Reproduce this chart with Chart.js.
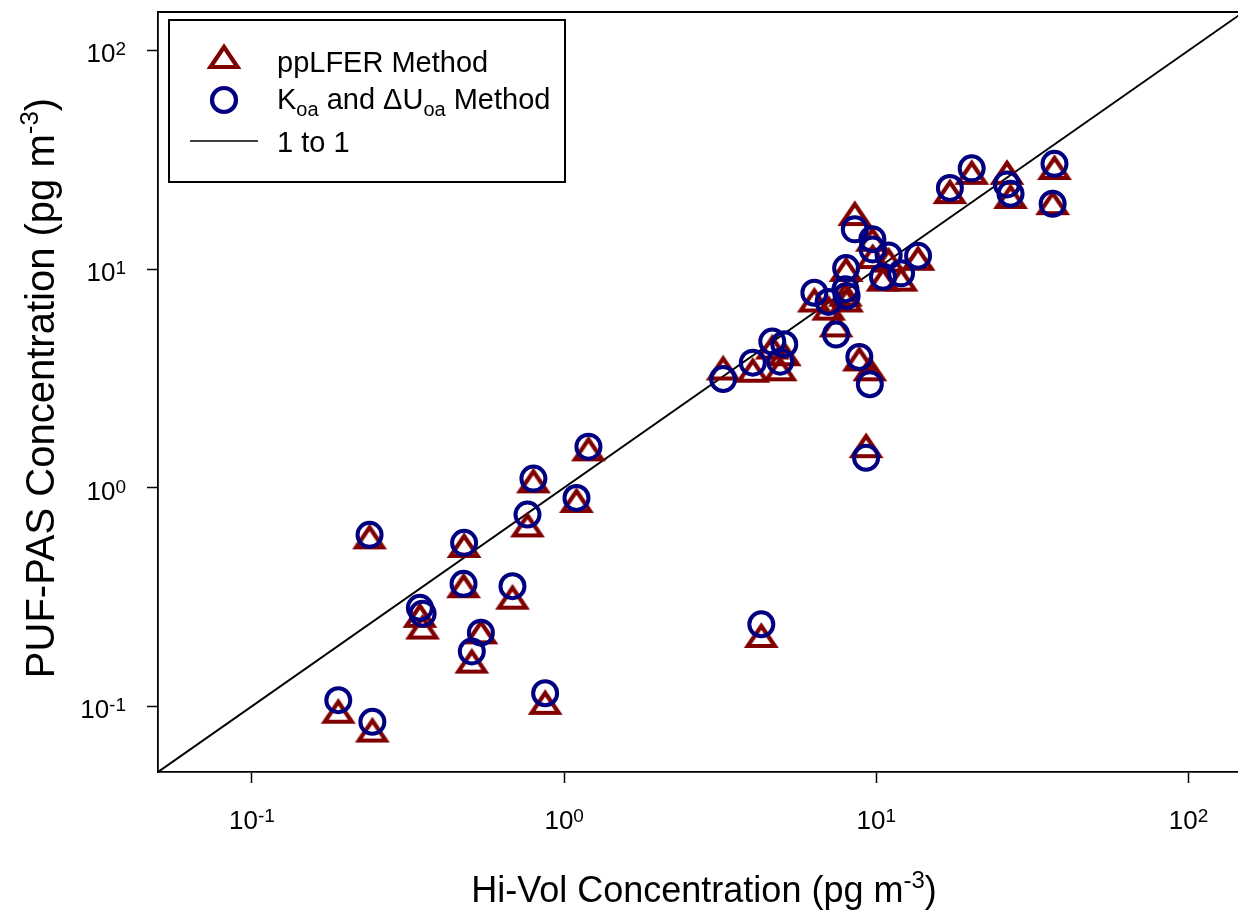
<!DOCTYPE html>
<html>
<head>
<meta charset="utf-8">
<script src="https://cdn.jsdelivr.net/npm/chart.js@4.4.0/dist/chart.umd.min.js"></script>
<style>
  html, body { margin: 0; padding: 0; background: #fff; }
  #wrap { width: 1238px; height: 913px; }
</style>
</head>
<body>
<div id="wrap"><canvas id="chart" width="1238" height="913"></canvas></div>
<script>
// Hi-Vol concentration (x), same for both methods
const hiVol = [0.189, 0.238, 0.243, 0.345, 0.352, 0.476, 0.478, 0.506, 0.541, 0.683,
  0.763, 0.797, 0.869, 1.095, 1.196, 3.23, 4.02, 4.28, 4.64, 4.92,
  5.07, 6.33, 7.03, 7.43, 7.96, 8.0, 8.03, 8.53, 8.82, 9.27,
  9.53, 9.71, 9.73, 10.5, 10.95, 12.0, 13.6, 17.2, 20.2, 26.2,
  26.9, 36.7, 37.2];
// PUF-PAS, ppLFER method
const ppLFER = [0.0914, 0.574, 0.075, 0.251, 0.222, 0.343, 0.524, 0.155, 0.211, 0.304,
  0.651, 1.035, 0.1004, 0.842, 1.45, 3.40, 3.32, 0.203, 4.24, 3.37,
  3.95, 6.96, 6.39, 5.35, 7.40, 9.6, 6.96, 17.3, 3.74, 1.50,
  3.37, 13.2, 11.0, 8.67, 10.6, 8.67, 10.8, 21.8, 26.7, 26.7,
  20.7, 19.4, 28.1];
// PUF-PAS, Koa and dUoa method
const koaMethod = [0.1065, 0.608, 0.0848, 0.282, 0.265, 0.363, 0.559, 0.178, 0.217, 0.354,
  0.753, 1.10, 0.1146, 0.897, 1.54, 3.14, 3.73, 0.237, 4.66, 3.77,
  4.53, 7.79, 7.07, 5.02, 8.08, 10.1, 7.53, 15.2, 3.96, 1.37,
  2.97, 13.7, 12.3, 9.22, 11.55, 9.56, 11.5, 23.5, 28.9, 24.4,
  22.1, 19.9, 30.3];
// 1 to 1 line ends
const oneToOne = [0.05, 150];
// axis ticks
const tickValues = [0.1, 1, 10, 100];
const tickExps = ["-1", "0", "1", "2"];

const RED = "#800000";
const BLUE = "#000080";
const FONT = '"Liberation Sans", Arial, sans-serif';

// triangle marker (centroid roughly at the centre of the canvas)
function makeTriangle() {
  const c = document.createElement("canvas");
  c.width = 36;
  c.height = 36;
  const g = c.getContext("2d");
  g.strokeStyle = RED;
  g.lineWidth = 4.2;
  g.lineJoin = "miter";
  g.beginPath();
  g.moveTo(18, 5);
  g.lineTo(31.5, 25);
  g.lineTo(4.5, 25);
  g.closePath();
  g.stroke();
  return c;
}
const triMarker = makeTriangle();

// text with super/subscripts
function drawRich(ctx, parts, x, y, align) {
  let total = 0;
  parts.forEach((p) => {
    ctx.font = p.size + "px " + FONT;
    p.w = ctx.measureText(p.text).width;
    total += p.w;
  });
  let cx = x;
  if (align === "center") cx = x - total / 2;
  if (align === "right") cx = x - total;
  ctx.textAlign = "left";
  ctx.textBaseline = "alphabetic";
  parts.forEach((p) => {
    ctx.font = p.size + "px " + FONT;
    ctx.fillText(p.text, cx, y + (p.dy || 0));
    cx += p.w;
  });
}

const decorPlugin = {
  id: "decor",
  afterDraw(chart) {
    const ctx = chart.ctx;
    const area = chart.chartArea;
    const xs = chart.scales.x;
    const ys = chart.scales.y;
    ctx.save();
    ctx.fillStyle = "#000";
    ctx.strokeStyle = "#000";

    // top frame
    ctx.lineWidth = 1.8;
    ctx.beginPath();
    ctx.moveTo(area.left, area.top);
    ctx.lineTo(area.right, area.top);
    ctx.stroke();

    // tick labels
    tickValues.forEach((v, i) => {
      const px = xs.getPixelForValue(v);
      drawRich(ctx, [
        { text: "10", size: 26 },
        { text: tickExps[i], size: 19, dy: -7 }
      ], px, 829, "center");
      const py = ys.getPixelForValue(v);
      drawRich(ctx, [
        { text: "10", size: 26 },
        { text: tickExps[i], size: 19, dy: -7 }
      ], 126, py + 12, "right");
    });

    // axis titles
    drawRich(ctx, [
      { text: "Hi-Vol Concentration (pg m", size: 36 },
      { text: "-3", size: 24, dy: -14 },
      { text: ")", size: 36 }
    ], 704, 902, "center");

    ctx.save();
    ctx.translate(54, 388);
    ctx.rotate(-Math.PI / 2);
    drawRich(ctx, [
      { text: "PUF-PAS Concentration (pg m", size: 40 },
      { text: "-3", size: 26, dy: -16 },
      { text: ")", size: 40 }
    ], 0, 0, "center");
    ctx.restore();

    // legend
    ctx.fillStyle = "#fff";
    ctx.fillRect(169, 20, 396, 162);
    ctx.lineWidth = 2;
    ctx.strokeRect(169, 20, 396, 162);
    ctx.fillStyle = "#000";
    ctx.drawImage(triMarker, 224 - 18, 60 - 18);
    ctx.strokeStyle = BLUE;
    ctx.lineWidth = 4.2;
    ctx.beginPath();
    ctx.arc(224, 100, 12, 0, Math.PI * 2);
    ctx.stroke();
    ctx.strokeStyle = "#000";
    ctx.lineWidth = 1.5;
    ctx.beginPath();
    ctx.moveTo(190, 141);
    ctx.lineTo(258, 141);
    ctx.stroke();
    drawRich(ctx, [{ text: "ppLFER Method", size: 29 }], 277, 72, "left");
    drawRich(ctx, [
      { text: "K", size: 29 },
      { text: "oa", size: 20, dy: 7 },
      { text: " and ", size: 29 },
      { text: "\u0394U", size: 29 },
      { text: "oa", size: 20, dy: 7 },
      { text: " Method", size: 29 }
    ], 277, 109, "left");
    drawRich(ctx, [{ text: "1 to 1", size: 29 }], 277, 152, "left");
    ctx.restore();
  }
};

function fixTicks(axis) {
  axis.ticks = tickValues.map((v) => ({ value: v }));
}

const ctx = document.getElementById("chart").getContext("2d");
new Chart(ctx, {
  type: "scatter",
  data: {
    datasets: [
      {
        label: "Koa and dUoa Method",
        data: hiVol.map((x, i) => ({ x: x, y: koaMethod[i] })),
        pointStyle: "circle",
        pointRadius: 12,
        borderWidth: 4,
        borderColor: BLUE,
        backgroundColor: "rgba(0,0,0,0)",
        order: 0
      },
      {
        label: "ppLFER Method",
        data: hiVol.map((x, i) => ({ x: x, y: ppLFER[i] })),
        pointStyle: triMarker,
        pointRadius: 18,
        order: 1
      },
      {
        type: "line",
        label: "1 to 1",
        data: oneToOne.map((v) => ({ x: v, y: v })),
        borderColor: "#000",
        borderWidth: 2,
        pointRadius: 0,
        order: 2
      }
    ]
  },
  options: {
    responsive: false,
    animation: false,
    layout: { autoPadding: false, padding: { top: 12, right: 0, left: 0, bottom: 0 } },
    plugins: { legend: { display: false }, tooltip: { enabled: false } },
    scales: {
      x: {
        type: "logarithmic",
        min: 0.05,
        max: 144,
        afterBuildTicks: fixTicks,
        afterFit: (s) => { s.height = 141; },
        ticks: { display: false },
        grid: { drawOnChartArea: false, drawTicks: true, tickLength: 11, tickWidth: 1.5, tickColor: "#000" },
        border: { display: true, color: "#000", width: 1.8 }
      },
      y: {
        type: "logarithmic",
        min: 0.05,
        max: 150,
        afterBuildTicks: fixTicks,
        afterFit: (s) => { s.width = 158; },
        ticks: { display: false },
        grid: { drawOnChartArea: false, drawTicks: true, tickLength: 11, tickWidth: 1.5, tickColor: "#000" },
        border: { display: true, color: "#000", width: 1.8 }
      }
    }
  },
  plugins: [decorPlugin]
});
</script>
</body>
</html>
